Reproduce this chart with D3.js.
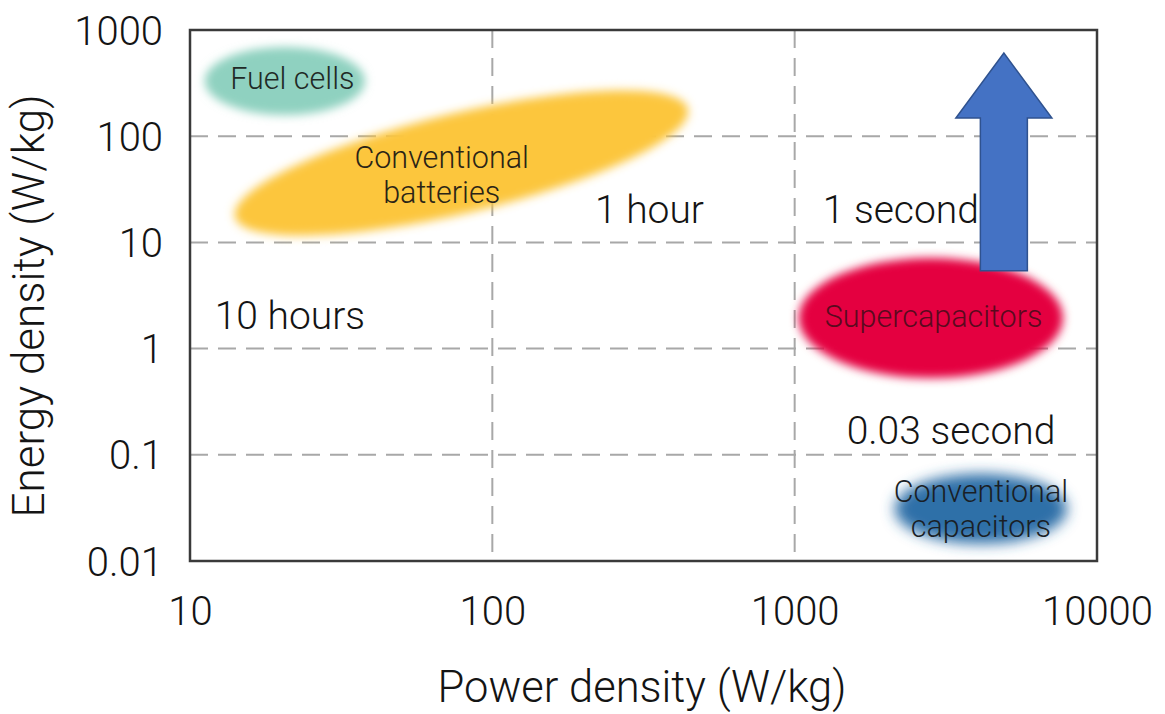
<!DOCTYPE html>
<html>
<head>
<meta charset="utf-8">
<script src="https://cdn.jsdelivr.net/npm/d3@7"></script>
<style>
  html, body { margin: 0; padding: 0; background: #ffffff; }
  svg text { font-family: Roboto, "Open Sans", sans-serif; font-weight: 300; fill: #141414; }
</style>
</head>
<body>
<svg id="chart" width="1165" height="714"></svg>
<script>
// Axis ticks (log scales)
const powerTicks = [10, 100, 1000, 10000];
const energyTicks = [0.01, 0.1, 1, 10, 100, 1000];

// Technology regions: centre (power, energy), half-extent in decades, tilt in degrees
const regionNames   = ["Fuel cells", "Conventional batteries", "Supercapacitors", "Conventional capacitors"];
const regionPower   = [20.6, 79, 2820, 4130];
const regionEnergy  = [331, 56, 1.94, 0.031];
const regionSpreadX = [0.265, 0.77, 0.437, 0.285];
const regionSpreadY = [0.32, 0.47, 0.565, 0.33];
const regionTilt    = [0, -13.4, 0, 0];

// Region label lines and anchor points
const regionLines       = [["Fuel cells"], ["Conventional", "batteries"], ["Supercapacitors"], ["Conventional", "capacitors"]];
const regionLabelPower  = [21.8, 68, 2880, 4130];
const regionLabelEnergy = [353, 43, 2.0, 0.031];

// Discharge-time annotations
const durationLabels = ["1 hour", "1 second", "10 hours", "0.03 second"];
const durationPower  = [331, 2245, 21.4, 3290];
const durationEnergy = [20.6, 20.6, 2.07, 0.171];

// Direction-of-improvement arrow (power, energy range)
const arrowPower = 4920;
const arrowEnergyFrom = 5.4;
const arrowEnergyTo = 607;
const arrowHeadBase = 148;

const svg = d3.select("#chart");
const W = 1165, H = 714;
const margin = { left: 190, right: W - 1097, top: 30, bottom: H - 561 };

const x = d3.scaleLog().domain([10, 10000]).range([margin.left, W - margin.right]);
const y = d3.scaleLog().domain([0.01, 1000]).range([H - margin.bottom, margin.top]);

const defs = svg.append("defs");
const blur = (id, sd) => defs.append("filter").attr("id", id)
  .attr("x", "-30%").attr("y", "-60%").attr("width", "160%").attr("height", "220%")
  .append("feGaussianBlur").attr("stdDeviation", sd);
blur("soft", 5);
blur("softer", 7);

// Grid lines (dashed) at inner decades
const gx = [100, 1000];
const gy = [0.1, 1, 10, 100];
const grid = svg.append("g").attr("stroke", "#a8a8a8").attr("stroke-width", 2).attr("stroke-dasharray", "18,10");
grid.selectAll("line.v").data(gx).join("line").attr("class", "v")
  .attr("x1", d => x(d)).attr("x2", d => x(d)).attr("y1", y.range()[1]).attr("y2", y.range()[0]);
grid.selectAll("line.h").data(gy).join("line").attr("class", "h")
  .attr("y1", d => y(d)).attr("y2", d => y(d)).attr("x1", x.range()[0]).attr("x2", x.range()[1]);

// Regions
const regionFill = ["#8fd1c0", "#fcc63c", "#e4003f", "#2f6fa8"];
const regions = regionNames.map((n, i) => ({
  name: n, p: regionPower[i], e: regionEnergy[i],
  sx: regionSpreadX[i], sy: regionSpreadY[i], tilt: regionTilt[i], fill: regionFill[i]
}));
svg.append("g").selectAll("ellipse").data(regions).join("ellipse")
  .attr("cx", 0).attr("cy", 0)
  .attr("rx", d => x(d.p * Math.pow(10, d.sx)) - x(d.p))
  .attr("ry", d => y(d.e) - y(d.e * Math.pow(10, d.sy)))
  .attr("transform", d => `translate(${x(d.p)},${y(d.e)}) rotate(${d.tilt})`)
  .attr("fill", d => d.fill)
  .attr("filter", (d, i) => i === 3 ? "url(#softer)" : "url(#soft)");

// Region labels
const labelColor = ["#1f2a26", "#2a2416", "#5a0a1e", "#1a1f26"];
const rl = svg.append("g").attr("font-size", 30.5).attr("text-anchor", "middle");
regionLines.forEach((lines, i) => {
  const cx = x(regionLabelPower[i]), cy = y(regionLabelEnergy[i]);
  const lh = 35;
  lines.forEach((t, j) => {
    rl.append("text")
      .attr("x", cx)
      .attr("y", cy + (j - (lines.length - 1) / 2) * lh)
      .attr("dy", "0.35em")
      .style("fill", labelColor[i])
      .text(t);
  });
});

// Duration labels
svg.append("g").attr("font-size", 39).attr("text-anchor", "middle")
  .selectAll("text").data(durationLabels).join("text")
  .attr("x", (d, i) => x(durationPower[i]))
  .attr("y", (d, i) => y(durationEnergy[i]))
  .attr("dy", "0.35em")
  .text(d => d);

// Block arrow
const ax = x(arrowPower), yb = y(arrowEnergyFrom), yt = y(arrowEnergyTo), yh = y(arrowHeadBase);
const sw = 23.5, hw = 48;
svg.append("path")
  .attr("d", `M${ax - sw},${yb} L${ax - sw},${yh} L${ax - hw},${yh} L${ax},${yt} L${ax + hw},${yh} L${ax + sw},${yh} L${ax + sw},${yb} Z`)
  .attr("fill", "#4472c4").attr("stroke", "#2f528f").attr("stroke-width", 1.5);

// Plot frame
svg.append("rect")
  .attr("x", x.range()[0]).attr("y", y.range()[1])
  .attr("width", x.range()[1] - x.range()[0]).attr("height", y.range()[0] - y.range()[1])
  .attr("fill", "none").attr("stroke", "#3a3a3a").attr("stroke-width", 2.5);

// Axes (labels only)
const fmt = d => String(d);
const xAxis = svg.append("g").attr("transform", `translate(0,${y.range()[0]})`)
  .call(d3.axisBottom(x).tickValues(powerTicks).tickFormat(fmt).tickSize(0).tickPadding(36));
const yAxis = svg.append("g").attr("transform", `translate(${x.range()[0]},0)`)
  .call(d3.axisLeft(y).tickValues(energyTicks).tickFormat(fmt).tickSize(0).tickPadding(27));
[xAxis, yAxis].forEach(a => {
  a.select(".domain").remove();
  a.selectAll("text").attr("font-size", 40).attr("font-family", null).style("fill", "#141414");
});
yAxis.selectAll("text").attr("dy", "0.35em");

// Axis titles
svg.append("text").attr("x", 642).attr("y", 702).attr("text-anchor", "middle")
  .attr("font-size", 43.5).text("Power density (W/kg)");
svg.append("text").attr("transform", "translate(44,306) rotate(-90)").attr("text-anchor", "middle")
  .attr("font-size", 44).text("Energy density (W/kg)");
</script>
</body>
</html>
